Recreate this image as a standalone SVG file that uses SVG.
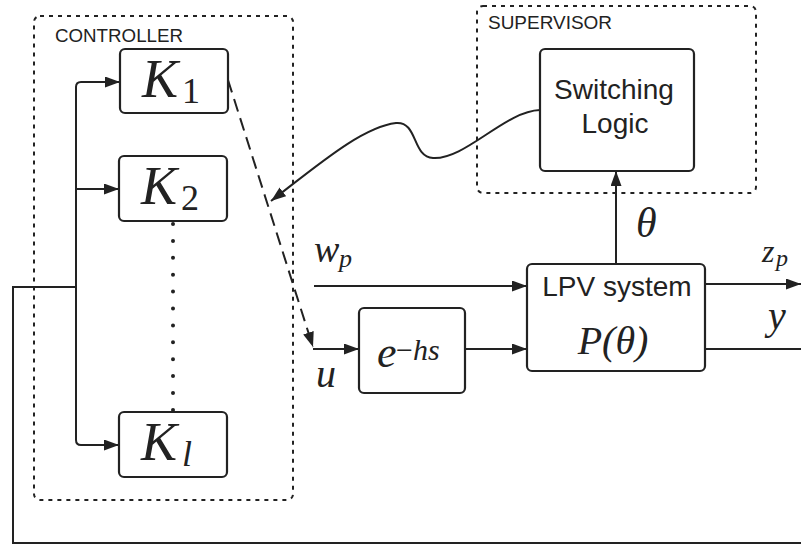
<svg xmlns="http://www.w3.org/2000/svg" width="801" height="544" viewBox="0 0 801 544">
<style>
.box{fill:#fff;stroke:#222;stroke-width:2.2}
.grp{fill:none;stroke:#222;stroke-width:2;stroke-dasharray:4 5}
.ln{fill:none;stroke:#222;stroke-width:2}
.sans{font-family:"Liberation Sans",Arial,sans-serif;fill:#222}
.math{font-family:"Liberation Serif","Times New Roman",serif;font-style:italic;fill:#222}
.mathr{font-family:"Liberation Serif","Times New Roman",serif;fill:#222}
</style>
<defs>
<marker id="ah" markerUnits="userSpaceOnUse" markerWidth="16" markerHeight="12" refX="15" refY="5.5" orient="auto">
<path d="M0,0 L15,5.5 L0,11 z" fill="#222"/>
</marker>
</defs>
<rect width="801" height="544" fill="#fff"/>

<g id="controller">
<rect class="grp" x="34" y="16" width="259" height="484" rx="6"/>
<text class="sans" x="55" y="42" font-size="18" textLength="128" lengthAdjust="spacingAndGlyphs">CONTROLLER</text>
</g>
<g id="supervisor">
<rect class="grp" x="477" y="6" width="279" height="187" rx="6"/>
<text class="sans" x="488" y="29" font-size="18" textLength="124" lengthAdjust="spacingAndGlyphs">SUPERVISOR</text>
</g>

<g id="connectors">
<path class="ln" d="M76,440 V87 Q76,82 81,82 H120" marker-end="url(#ah)"/>
<path class="ln" d="M76,189 H119" marker-end="url(#ah)"/>
<path class="ln" d="M76,435 V440 Q76,445 81,445 H119" marker-end="url(#ah)"/>
<path class="ln" d="M76,287 H13 V543 H801"/>
<line x1="173" y1="224" x2="173" y2="412" stroke="#222" stroke-width="4" stroke-linecap="round" stroke-dasharray="0 16.9"/>
<path class="ln" d="M228,80 L313,347" stroke-dasharray="13 7" marker-end="url(#ah)"/>
<path class="ln" d="M313,349 H359" marker-end="url(#ah)"/>
<path class="ln" d="M540,110 C505,111 465,160 433,158 C412,157 418,121 396,123 C362,127 318,165 271,201" marker-end="url(#ah)"/>
<path class="ln" d="M314,286 H527" marker-end="url(#ah)"/>
<path class="ln" d="M465,349 H527" marker-end="url(#ah)"/>
<path class="ln" d="M616,264 V171" marker-end="url(#ah)"/>
<path class="ln" d="M705,284 H801" marker-end="url(#ah)"/>
<path class="ln" d="M705,349 H801"/>
</g>

<g id="K1">
<rect class="box" x="120" y="49" width="108" height="64" rx="5"/>
<text class="math" x="142" y="97" font-size="54">K</text>
<text class="mathr" x="182" y="103" font-size="36">1</text>
</g>
<g id="K2">
<rect class="box" x="119" y="156" width="108" height="65" rx="5"/>
<text class="math" x="141" y="204" font-size="54">K</text>
<text class="mathr" x="181" y="210" font-size="36">2</text>
</g>
<g id="Kl">
<rect class="box" x="119" y="412" width="108" height="65" rx="5"/>
<text class="math" x="141" y="460" font-size="54">K</text>
<text class="math" x="182" y="466" font-size="36">l</text>
</g>
<g id="switching">
<rect class="box" x="540" y="49" width="154" height="122" rx="5"/>
<text class="sans" x="614" y="99" font-size="28" text-anchor="middle">Switching</text>
<text class="sans" x="615" y="133" font-size="28" text-anchor="middle">Logic</text>
</g>
<g id="delay">
<rect class="box" x="359" y="308" width="106" height="85" rx="5"/>
<text class="math" x="377" y="367" font-size="44">e</text>
<text class="math" x="396" y="360" font-size="30"><tspan class="mathr" font-style="normal">−</tspan>hs</text>
</g>
<g id="lpv">
<rect class="box" x="527" y="264" width="178" height="107" rx="5"/>
<text class="sans" x="617" y="296" font-size="28" text-anchor="middle">LPV system</text>
<text class="math" x="613" y="354" font-size="40" text-anchor="middle">P(θ)</text>
</g>
<g id="labels">
<text class="math" x="314" y="262" font-size="38">w</text>
<text class="math" x="339" y="267" font-size="26">p</text>
<text class="math" x="316" y="387" font-size="40">u</text>
<text class="math" x="636" y="237" font-size="42">θ</text>
<text class="math" x="762" y="262" font-size="32">z</text>
<text class="math" x="776" y="266" font-size="24">p</text>
<text class="math" x="768" y="329" font-size="40">y</text>
</g>
</svg>
